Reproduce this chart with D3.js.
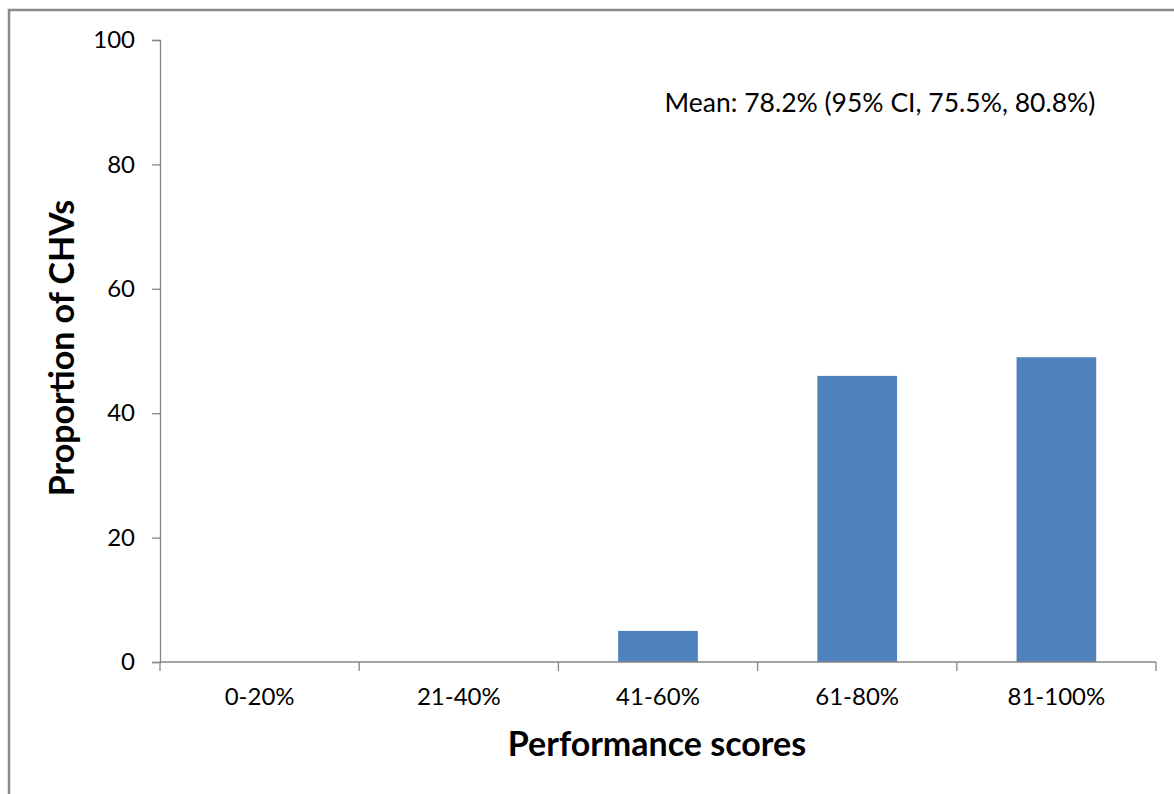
<!DOCTYPE html>
<html>
<head>
<meta charset="utf-8">
<script src="https://cdn.jsdelivr.net/npm/d3@7"></script>
<style>
html,body{margin:0;padding:0;background:#fff;overflow:hidden;}
svg{display:block;}
text{font-family:Lato,"Open Sans",sans-serif;fill:#000;}
</style>
</head>
<body>
<svg id="chart" width="1174" height="794"></svg>
<script>
const categories = ["0-20%", "21-40%", "41-60%", "61-80%", "81-100%"];
const values = [0, 0, 5, 46, 49];
const yTicks = [0, 20, 40, 60, 80, 100];
const annotation = "Mean: 78.2% (95% CI, 75.5%, 80.8%)";
const xTitle = "Performance scores";
const yTitle = "Proportion of CHVs";

(function () {
const svg = d3.select("#chart");
const mLeft = 160, mRight = 1156, mTop = 40, mBottom = 662;
const axisColor = "#868686";
const fontFam = "Lato, 'Open Sans', sans-serif";

// outer frame (only top and left visible)
svg.append("rect").attr("x", 9).attr("y", 10).attr("width", 1400).attr("height", 1000)
  .attr("fill", "none").attr("stroke", "#8a8a8a").attr("stroke-width", 2.5);

const x = d3.scaleBand().domain(categories).range([mLeft, mRight]).paddingInner(0.6).paddingOuter(0.3);
const xb = d3.scaleBand().domain(categories).range([mLeft, mRight]).padding(0);
const y = d3.scaleLinear().domain([0, 100]).range([mBottom, mTop]);

// bars
svg.append("g").selectAll("rect").data(values).join("rect")
  .attr("x", (d, i) => x(categories[i]))
  .attr("y", d => y(d))
  .attr("width", x.bandwidth())
  .attr("height", d => y(0) - y(d))
  .attr("fill", "#4F81BD");

// y axis
const yAxis = svg.append("g").attr("transform", `translate(${mLeft},0)`)
  .call(d3.axisLeft(y).tickValues(yTicks).tickSize(8).tickPadding(17));
yAxis.select(".domain").attr("stroke", axisColor).attr("stroke-width", 1.3);
yAxis.selectAll(".tick line").attr("stroke", axisColor).attr("stroke-width", 1.3);
yAxis.selectAll(".tick text").attr("font-size", 24).attr("fill", "#222")
  .style("font-family", fontFam);

// x axis (labels at centres)
const xAxis = svg.append("g").attr("transform", `translate(0,${mBottom})`)
  .call(d3.axisBottom(xb).tickSize(0).tickPadding(26));
xAxis.select(".domain").remove();
xAxis.selectAll(".tick text").attr("font-size", 24).attr("fill", "#222")
  .style("font-family", fontFam);
svg.append("line").attr("x1", mLeft).attr("x2", mRight).attr("y1", mBottom).attr("y2", mBottom)
  .attr("stroke", axisColor).attr("stroke-width", 1.3);
// boundary ticks
const bounds = categories.map(c => xb(c)).concat([xb(categories[categories.length - 1]) + xb.bandwidth()]);
svg.append("g").selectAll("line").data(bounds).join("line")
  .attr("x1", d => d).attr("x2", d => d).attr("y1", mBottom).attr("y2", mBottom + 9)
  .attr("stroke", axisColor).attr("stroke-width", 1.3);

// annotation
svg.append("text").attr("x", 880).attr("y", 112).attr("text-anchor", "middle")
  .attr("font-size", 26.5).attr("fill", "#222").text(annotation);

// axis titles
svg.append("text").attr("x", 657).attr("y", 756).attr("text-anchor", "middle")
  .attr("font-size", 34).attr("font-weight", "bold").text(xTitle);
svg.append("text").attr("transform", "translate(74,348) rotate(-90)").attr("text-anchor", "middle")
  .attr("font-size", 34).attr("font-weight", "bold").text(yTitle);
})();
</script>
</body>
</html>
